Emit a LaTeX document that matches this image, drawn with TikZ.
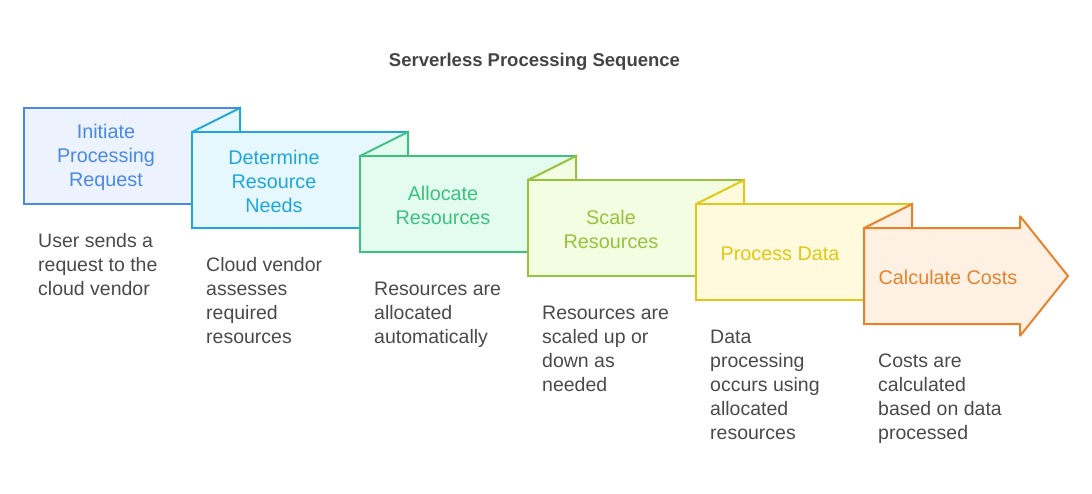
\documentclass[tikz,border=0pt]{standalone}
\usepackage{fontspec}
\setmainfont{Liberation Sans}
\definecolor{cA}{HTML}{4A88E4}\definecolor{fA}{HTML}{EDF3FE}
\definecolor{cB}{HTML}{1FA7DA}\definecolor{fB}{HTML}{E6F7FD}
\definecolor{cC}{HTML}{3CC27F}\definecolor{fC}{HTML}{E3FCEF}
\definecolor{cD}{HTML}{97C23B}\definecolor{fD}{HTML}{F3FDE1}
\definecolor{cE}{HTML}{E0C816}\definecolor{fE}{HTML}{FFFADD}
\definecolor{cF}{HTML}{E5832D}\definecolor{fF}{HTML}{FEF0E3}
\definecolor{desc}{HTML}{4A4A4A}
\definecolor{ttl}{HTML}{444444}
\newcommand\firststrut{\rule{0pt}{15pt}}
\tikzset{
  boxline/.style={line width=2pt, line join=miter, miter limit=2},
  label/.style={align=center, inner sep=0pt, font=\fontsize{19.8}{24}\selectfont},
  desctext/.style={align=left, anchor=north west, inner sep=0pt, text=desc, font=\fontsize{19.5}{24}\selectfont},
}
\begin{document}
\begin{tikzpicture}[x=1pt,y=-1pt]
\useasboundingbox (0,0) rectangle (1092,493);
\node[font=\fontsize{18.5}{22}\selectfont\bfseries, text=ttl, inner sep=0pt] (title) at (534.5,61.5) {Serverless Processing Sequence};
% box 1
\draw[boxline, draw=cA, fill=fA] (24,108) rectangle (240,204);
% box 2
\draw[boxline, draw=cB, fill=fB] (192,132) -- (240,108) -- (240,132) -- cycle;
\draw[boxline, draw=cB, fill=fB] (192,132) rectangle (408,228);
% box 3
\draw[boxline, draw=cC, fill=fC] (360,156) -- (408,132) -- (408,156) -- cycle;
\draw[boxline, draw=cC, fill=fC] (360,156) rectangle (576,252);
% box 4
\draw[boxline, draw=cD, fill=fD] (528,180) -- (576,156) -- (576,180) -- cycle;
\draw[boxline, draw=cD, fill=fD] (528,180) rectangle (744,276);
% box 5
\draw[boxline, draw=cE, fill=fE] (696,204) -- (744,180) -- (744,204) -- cycle;
\draw[boxline, draw=cE, fill=fE] (696,204) rectangle (912,300);
% box 6 arrow
\draw[boxline, draw=cF, fill=fF] (864,228) -- (912,204) -- (912,228) -- cycle;
\draw[boxline, draw=cF, fill=fF] (864,228) -- (1020,228) -- (1020,216) -- (1068,276) -- (1020,336) -- (1020,324) -- (864,324) -- cycle;
% labels
\node[label, text=cA] (l1) at (106,157.5) {Initiate\\Processing\\Request};
\node[label, text=cB] (l2) at (274,181.5) {Determine\\Resource\\Needs};
\node[label, text=cC] (l3) at (443,205.5) {Allocate\\Resources};
\node[label, text=cD] (l4) at (611,229.5) {Scale\\Resources};
\node[label, text=cE] (l5) at (780,253.5) {Process Data};
\node[label, text=cF] (l6) at (948,277.5) {Calculate Costs};
% descriptions
\node[desctext] (d1) at (38,232) {\firststrut User sends a\\request to the\\cloud vendor};
\node[desctext] (d2) at (206,256) {\firststrut Cloud vendor\\assesses\\required\\resources};
\node[desctext] (d3) at (374,280) {\firststrut Resources are\\allocated\\automatically};
\node[desctext] (d4) at (542,304) {\firststrut Resources are\\scaled up or\\down as\\needed};
\node[desctext] (d5) at (710,328) {\firststrut Data\\processing\\occurs using\\allocated\\resources};
\node[desctext] (d6) at (878,352) {\firststrut Costs are\\calculated\\based on data\\processed};
\end{tikzpicture}
\end{document}
